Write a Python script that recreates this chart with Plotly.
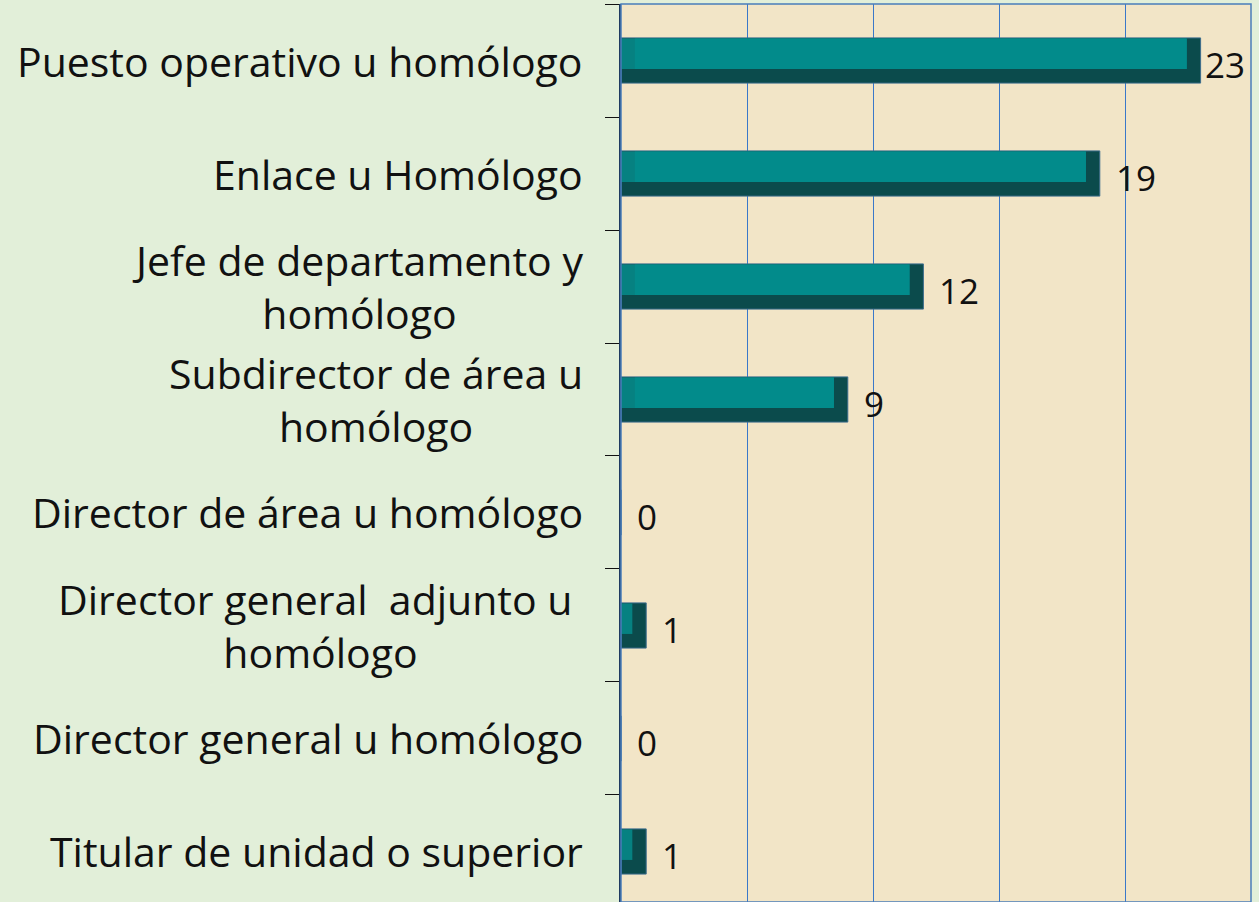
import plotly.graph_objects as go

categories = [
    "Puesto operativo u homólogo",
    "Enlace u Homólogo",
    "Jefe de departamento y<br>homólogo",
    "Subdirector de área u<br>homólogo",
    "Director de área u homólogo",
    "Director general\u00a0\u00a0adjunto u\u00a0<br>homólogo",
    "Director general u homólogo",
    "Titular de unidad o superior",
]
values = [23, 19, 12, 9, 0, 1, 0, 1]

FONT = "Open Sans"
BEVEL = 0.55

fig = go.Figure()

# dark base of the bevelled bar
fig.add_trace(go.Bar(
    y=categories, x=values, orientation="h", width=0.4,
    marker=dict(color="#0b4b4c", line=dict(color="#3d6d8c", width=1)),
    hoverinfo="x+y", showlegend=False,
))
# slightly darker left bevel band
mid_x = [max(v - BEVEL, 0) for v in values]
fig.add_trace(go.Bar(
    y=categories, x=mid_x, orientation="h", width=0.27, offset=-0.195,
    marker=dict(color="#068181", line=dict(width=0)),
    hoverinfo="skip", showlegend=False,
))
# light top face
face_x = [max(v - 2 * BEVEL, 0) for v in values]
fig.add_trace(go.Bar(
    y=categories, x=face_x, base=[BEVEL] * len(values), orientation="h",
    width=0.27, offset=-0.195,
    marker=dict(color="#028b8b", line=dict(width=0)),
    hoverinfo="skip", showlegend=False,
))

annotations = []
for c, v in zip(categories, values):
    annotations.append(dict(
        x=v, y=c, xref="x", yref="y", text=str(v), showarrow=False,
        xanchor="left", yanchor="middle", xshift=14 if v < 20 else 2, yshift=-4,
        font=dict(family=FONT, size=35, color="#111111"),
    ))
    annotations.append(dict(
        x=0, y=c, xref="paper", yref="y", text=c, showarrow=False,
        xanchor="right", yanchor="middle", align="center", xshift=-36,
        font=dict(family=FONT, size=41, color="#111111"),
    ))

fig.update_layout(
    width=1259, height=902,
    margin=dict(l=621, r=8, t=4, b=0),
    paper_bgcolor="#e2efd9",
    plot_bgcolor="#f2e5c7",
    barmode="overlay",
    bargap=0.6,
    annotations=annotations,
    xaxis=dict(
        range=[0, 25], dtick=5, showgrid=True, gridcolor="#3a78c9", gridwidth=1,
        showticklabels=False, zeroline=False, showline=False, ticks="",
        fixedrange=True,
    ),
    yaxis=dict(
        type="category", range=[7.447, -0.5], showticklabels=False,
        ticks="outside", tickson="boundaries", ticklen=14, tickcolor="#111111",
        showline=True, linecolor="#1f3a60", linewidth=2, showgrid=False,
        zeroline=False, fixedrange=True,
    ),
    shapes=[dict(
        type="rect", xref="paper", yref="paper", x0=0, x1=1, y0=0, y1=1,
        line=dict(color="#4a7ebb", width=1.5), layer="above",
    )],
)

fig.write_html(
    "out.html",
    config={"displayModeBar": False},
    post_script="document.body.style.margin='0px';",
)
